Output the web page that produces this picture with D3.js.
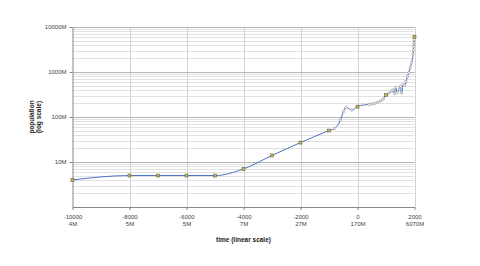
<!DOCTYPE html>
<html>
<head>
<meta charset="utf-8">
<script src="https://cdn.jsdelivr.net/npm/d3@7"></script>
<style>
  body { margin: 0; background: #fff; }
  svg { font-family: "Liberation Sans", Arial, sans-serif; }
</style>
</head>
<body>
<div id="vis"></div>
<script>
// population in millions, year (negative = BC)
var years = [-10000, -8000, -7000, -6000, -5000, -4000, -3000, -2000, -1000, -800, -600, -500, -400, -200, 0,
  200, 400, 500, 600, 700, 800, 900, 1000, 1100, 1200, 1250, 1300, 1340, 1400, 1500, 1550, 1600,
  1650, 1700, 1750, 1800, 1850, 1900, 1950, 1960, 1970, 1980, 1990, 2000];
var population = [4, 5, 5, 5, 5, 7, 14, 27, 50, 56, 85, 130, 164, 143, 170,
  185, 190, 195, 200, 210, 225, 250, 310, 340, 380, 400, 330, 450, 350, 480, 340, 520,
  500, 610, 790, 980, 1260, 1650, 2520, 3020, 3700, 4440, 5270, 6070];
var milestoneYears = [-10000, -8000, -7000, -6000, -5000, -4000, -3000, -2000, -1000, 0, 1000, 2000];
var xTickYears = [-10000, -8000, -6000, -4000, -2000, 0, 2000];
var xTickPops = ["4M", "5M", "5M", "7M", "27M", "170M", "6070M"];
var yTicks = [10, 100, 1000, 10000];

var width = 480, height = 266;
var margin = {top: 27, right: 66, bottom: 59, left: 72.5};

var data = years.map(function(y, i){ return {year: y, pop: population[i]}; });

var svg = d3.select("#vis").append("svg")
  .attr("width", width)
  .attr("height", height);

var x_scale = d3.scaleLinear()
  .domain([-10000, 2000])
  .range([margin.left, width - margin.right + 0.5]);

var y_scale = d3.scaleLog()
  .domain([1, 10000])
  .range([height - margin.bottom, margin.top]);

// minor gridlines (2..9 of each decade)
var minor = [];
[1, 10, 100, 1000].forEach(function(d){
  for (var k = 2; k <= 9; k++) minor.push(d * k);
});

var grid = svg.append("g");
grid.selectAll(".minor")
  .data(minor)
  .enter().append("line")
  .attr("x1", x_scale.range()[0])
  .attr("x2", x_scale.range()[1])
  .attr("y1", d => Math.round(y_scale(d)) + 0.5)
  .attr("y2", d => Math.round(y_scale(d)) + 0.5)
  .attr("stroke", "#e2e2e2")
  .attr("stroke-width", 1);

grid.selectAll(".vline")
  .data(xTickYears.slice(1))
  .enter().append("line")
  .attr("x1", d => Math.round(x_scale(d)) + 0.5)
  .attr("x2", d => Math.round(x_scale(d)) + 0.5)
  .attr("y1", y_scale.range()[1])
  .attr("y2", y_scale.range()[0])
  .attr("stroke", "#d4d4d4")
  .attr("stroke-width", 1);

grid.selectAll(".major")
  .data(yTicks)
  .enter().append("line")
  .attr("x1", x_scale.range()[0])
  .attr("x2", x_scale.range()[1])
  .attr("y1", d => Math.round(y_scale(d)) + 0.5)
  .attr("y2", d => Math.round(y_scale(d)) + 0.5)
  .attr("stroke", "#b4b4b4")
  .attr("stroke-width", 1);

// axes
var y_axis = svg.append("g")
  .attr("transform", "translate(" + (margin.left) + ",0)")
  .call(d3.axisLeft(y_scale).tickValues(yTicks).tickSize(3).tickSizeOuter(0)
    .tickFormat(d => d + "M"));

var x_axis = svg.append("g")
  .attr("transform", "translate(0," + (height - margin.bottom) + ")")
  .call(d3.axisBottom(x_scale).tickValues(xTickYears).tickSize(3).tickSizeOuter(0)
    .tickFormat(""));

[y_axis, x_axis].forEach(function(ax){
  ax.select(".domain").attr("stroke", "#888");
  ax.selectAll(".tick line").attr("stroke", "#888");
});
y_axis.selectAll("text")
  .attr("fill", "#444")
  .style("font-size", "6px");

x_axis.selectAll(".tick").each(function(d, i){
  var t = d3.select(this).append("text")
    .attr("fill", "#444")
    .attr("text-anchor", "middle")
    .style("font-size", "6px");
  t.append("tspan").attr("x", 0).attr("y", 12).text(d);
  t.append("tspan").attr("x", 0).attr("y", 19).text(xTickPops[i]);
});

// line
var line = d3.line()
  .x(d => x_scale(d.year))
  .y(d => y_scale(d.pop))
  .curve(d3.curveMonotoneX);

svg.append("path")
  .datum(data)
  .attr("fill", "none")
  .attr("stroke", "#4a72c8")
  .attr("stroke-width", 1)
  .attr("d", line);

// small markers on the dense part
svg.selectAll(".dot")
  .data(data.filter(d => d.year > -1000 && milestoneYears.indexOf(d.year) < 0))
  .enter().append("circle")
  .attr("cx", d => x_scale(d.year))
  .attr("cy", d => y_scale(d.pop))
  .attr("r", 1.2)
  .attr("fill", "#fff")
  .attr("stroke", "#888")
  .attr("stroke-width", 0.6);

// milestone markers
svg.selectAll(".mark")
  .data(data.filter(d => milestoneYears.indexOf(d.year) >= 0))
  .enter().append("rect")
  .attr("x", d => x_scale(d.year) - 1.5)
  .attr("y", d => y_scale(d.pop) - 1.5)
  .attr("width", 3)
  .attr("height", 3)
  .attr("fill", "#c4b45a")
  .attr("stroke", "#6a6540")
  .attr("stroke-width", 0.6);

// titles
svg.append("text")
  .attr("x", (x_scale.range()[0] + x_scale.range()[1]) / 2)
  .attr("y", 242)
  .attr("text-anchor", "middle")
  .attr("fill", "#222")
  .style("font-size", "6.5px")
  .style("font-weight", "bold")
  .text("time (linear scale)");

var ytitle = svg.append("text")
  .attr("transform", "translate(34," + ((y_scale.range()[0] + y_scale.range()[1]) / 2) + ") rotate(-90)")
  .attr("text-anchor", "middle")
  .attr("fill", "#222")
  .style("font-size", "6.5px")
  .style("font-weight", "bold");
ytitle.append("tspan").attr("x", 0).attr("y", 0).text("population");
ytitle.append("tspan").attr("x", 0).attr("y", 7).text("(log scale)");
</script>
</body>
</html>
